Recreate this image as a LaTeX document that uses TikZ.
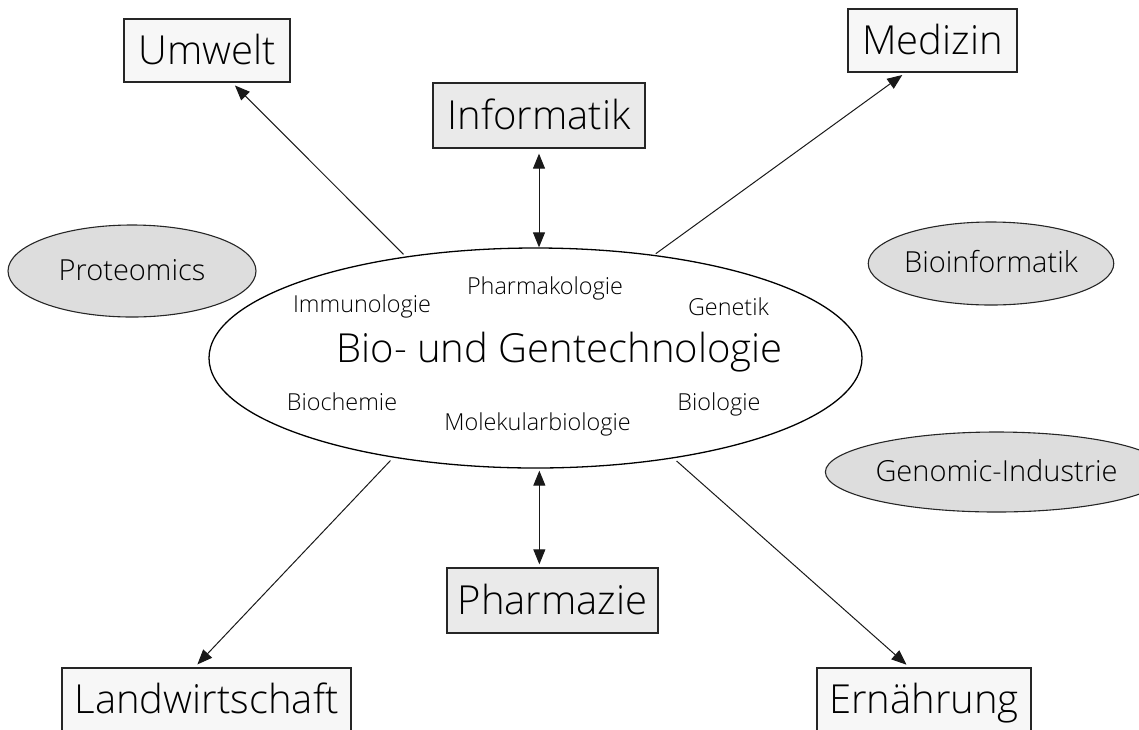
\documentclass[tikz,border=0pt]{standalone}
\usepackage{fontspec}
\setmainfont{Open Sans Light}
\usetikzlibrary{shapes.geometric,arrows.meta}
\definecolor{paleBox}{HTML}{F7F7F7}
\definecolor{greyBox}{HTML}{EAEAEA}
\definecolor{greyOval}{HTML}{DDDDDD}
\begin{document}
\begin{tikzpicture}[x=1pt,y=-1pt,
  field/.style={draw=black!85, line width=1.3pt, fill=#1, inner sep=0pt,
    text height=30.5pt, text depth=3pt, font=\fontsize{40}{42}\selectfont},
  topic/.style={ellipse, draw=black!85, line width=1.1pt, fill=greyOval, inner sep=0pt,
    text height=21.5pt, text depth=3pt, font=\fontsize{29}{31}\selectfont},
  sub/.style={anchor=base, inner sep=0pt, font=\fontsize{23.4}{25}\selectfont},
  link/.style={line width=1pt, black!90, -{Triangle[length=15pt,width=12pt]}},
  both/.style={line width=1pt, black!90, {Triangle[length=15pt,width=12pt]}-{Triangle[length=15pt,width=12pt]}}
]
\useasboundingbox (0,0) rectangle (1139,729);

% central field
\node[ellipse, draw=black, line width=1.3pt, fill=white, inner sep=0pt,
      minimum width=653pt, minimum height=220pt] (main) at (535.5,358) {};
\node[anchor=base, inner sep=0pt, font=\fontsize{40}{42}\selectfont] (title) at (559.5,362) {Bio- und Gentechnologie};
\node[sub] (immu)  at (362,312)   {Immunologie};
\node[sub] (pharmak) at (545,294) {Pharmakologie};
\node[sub] (genet) at (728.5,315) {Genetik};
\node[sub] (bioch) at (342,410)   {Biochemie};
\node[sub] (molbio) at (537.5,430) {Molekularbiologie};
\node[sub] (biol)  at (719,410)   {Biologie};

% application fields
\node[field=paleBox, minimum width=166pt, minimum height=63pt] (umwelt) at (207,50.5) {Umwelt};
\node[field=greyBox, minimum width=212pt, minimum height=65pt] (informatik) at (539,115.5) {Informatik};
\node[field=paleBox, minimum width=169pt, minimum height=63pt] (medizin) at (932.5,40.5) {Medizin};
\node[field=greyBox, minimum width=211pt, minimum height=65pt] (pharmazie) at (552.5,600.5) {Pharmazie};
\node[field=paleBox, minimum width=289pt, minimum height=64pt] (landw) at (206.5,700) {Landwirtschaft};
\node[field=paleBox, minimum width=214pt, minimum height=64pt] (ernaehrung) at (924,700) {Ernährung};

% related topics
\node[topic, minimum width=248pt, minimum height=92pt] (proteomics) at (132,271) {Proteomics};
\node[topic, minimum width=232pt, minimum height=83pt] (bioinf) at (991,263.5) {Bioinformatik};
\node[topic, minimum width=283pt, minimum height=80pt] (genomic) at (996.5,472) {Genomic-Industrie};

% connectors
\draw[link, shorten <=3pt, shorten >=4pt] (main.142) -- (umwelt.-52);
\draw[link, shorten <=2pt, shorten >=4pt] (main.41) -- (medizin.-130);
\draw[link, shorten <=4pt, shorten >=4pt] (main.215) -- (landw.110);
\draw[link, shorten <=4pt, shorten >=4pt] (main.-36) -- (ernaehrung.114);
\draw[both, shorten <=5pt] (informatik.south) -- (informatik.south |- main.north);
\draw[both, shorten <=2pt, shorten >=3pt] ([xshift=93pt]pharmazie.north west |- main.south) -- ([xshift=93pt]pharmazie.north west);
\end{tikzpicture}
\end{document}
